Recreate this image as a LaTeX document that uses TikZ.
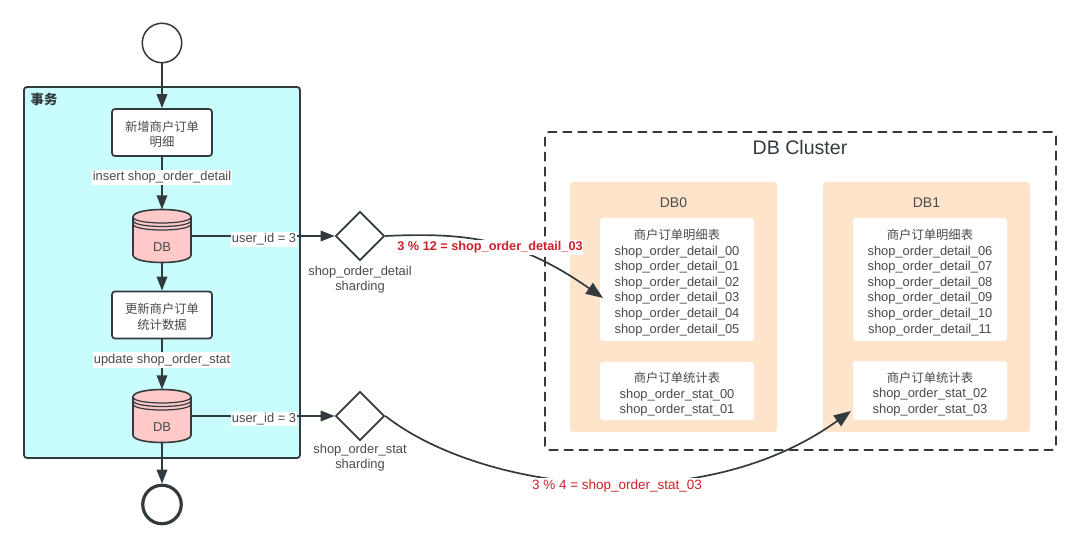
\documentclass[tikz,border=0pt]{standalone}
\usepackage{fontspec}
\setmainfont{Liberation Sans}
\newfontfamily\cjk[Scale=0.955]{Noto Sans CJK SC}
\usetikzlibrary{arrows.meta,shapes.geometric,positioning}
\definecolor{ink}{HTML}{333A3D}
\definecolor{txt}{HTML}{4A4A4A}
\definecolor{lane}{HTML}{C8FCFD}
\definecolor{dbfill}{HTML}{FFC9C9}
\definecolor{shard}{HTML}{FFE4CC}
\definecolor{redtxt}{HTML}{D0202A}
\tikzset{
  x=1pt, y=-1pt,
  base/.style={font=\fontsize{12.9}{15.6}\selectfont, text=txt, align=center, inner sep=0pt},
  flow/.style={draw=ink, line width=1.9pt, -{Triangle[length=14pt,width=10.5pt]}},
  bend line/.style={draw=ink, line width=1.7pt, -{Triangle[length=17pt,width=13pt]}},
  lane box/.style={draw=ink, line width=1.8pt, fill=lane, rounded corners=3pt, minimum width=276pt, minimum height=371pt, inner sep=0pt},
  task/.style={draw=ink, line width=1.7pt, fill=white, rounded corners=3pt, minimum width=100pt, minimum height=47pt, inner sep=0pt},
  gate/.style={draw=ink, line width=1.7pt, fill=white, diamond, aspect=1, minimum width=49pt, minimum height=49pt, inner sep=0pt},
  edge text/.style={base, fill=white, inner xsep=0.5pt, inner ysep=1.5pt},
  shard box/.style={fill=shard, rounded corners=3pt, minimum width=207pt, minimum height=250pt, inner sep=0pt},
  table box/.style={fill=white, rounded corners=3pt, minimum width=154pt, inner sep=0pt},
  red text/.style={font=\fontsize{13.5}{15}\selectfont, text=redtxt, inner xsep=0.5pt, inner ysep=1.5pt, fill=white},
}
% Database drum: body, stacked rims and a named frame for connectors
\newcommand{\drum}[3]{%
  \draw[ink, line width=1.6pt, fill=dbfill]
    (#2-29,#3-19) .. controls (#2-29,#3-29) and (#2+29,#3-29) .. (#2+29,#3-19)
    -- (#2+29,#3+19) .. controls (#2+29,#3+29) and (#2-29,#3+29) .. (#2-29,#3+19) -- cycle;
  \draw[ink, line width=1.2pt]
    (#2-29,#3-19) .. controls (#2-29,#3-11) and (#2+29,#3-11) .. (#2+29,#3-19)
    (#2-29,#3-15.5) .. controls (#2-29,#3-7.5) and (#2+29,#3-7.5) .. (#2+29,#3-15.5)
    (#2-29,#3-12) .. controls (#2-29,#3-4) and (#2+29,#3-4) .. (#2+29,#3-12);
  \node[inner sep=0pt, minimum width=58pt, minimum height=53pt] (#1) at (#2,#3) {};
  \node[base] (#1label) at (#2,#3+11) {DB};
}
\begin{document}
\begin{tikzpicture}
\useasboundingbox (0,0) rectangle (1080,548);

% cluster frame and shards
\node[draw=ink, dashed, dash pattern=on 9.5pt off 5.5pt, line width=1.8pt, rounded corners=4pt, minimum width=511pt, minimum height=318pt, inner sep=0pt] (cluster) at (800.5,291) {};
\node[font=\fontsize{19.6}{22}\selectfont, text=ink, inner sep=0pt] (clustertitle) at (800,147) {DB Cluster};

\node[shard box] (db0) at (673.5,307) {};
\node[shard box] (dbone) at (926.5,307) {};
\node[base, font=\fontsize{14}{16}\selectfont] (db0title) at (673.5,203) {DB0};
\node[base, font=\fontsize{14}{16}\selectfont] (dbonetitle) at (926.5,203) {DB1};

\node[table box, minimum height=123pt] (detail0) at (677,279.5) {};
\node[table box, minimum height=123pt] (detail1) at (930,279.5) {};
\node[table box, minimum height=58pt] (stat0) at (677,391) {};
\node[table box, minimum height=59pt] (stat1) at (930,390.5) {};
\node[base] (detail0text) at (677,282.5) {{\cjk 商户订单明细表}\\shop\_order\_detail\_00\\shop\_order\_detail\_01\\shop\_order\_detail\_02\\shop\_order\_detail\_03\\shop\_order\_detail\_04\\shop\_order\_detail\_05};
\node[base] (detail1text) at (930,282.5) {{\cjk 商户订单明细表}\\shop\_order\_detail\_06\\shop\_order\_detail\_07\\shop\_order\_detail\_08\\shop\_order\_detail\_09\\shop\_order\_detail\_10\\shop\_order\_detail\_11};
\node[base] (stat0text) at (677,394.5) {{\cjk 商户订单统计表}\\shop\_order\_stat\_00\\shop\_order\_stat\_01};
\node[base] (stat1text) at (930,394) {{\cjk 商户订单统计表}\\shop\_order\_stat\_02\\shop\_order\_stat\_03};

% transaction lane
\node[lane box] (lane) at (162,272.5) {};
\node[font=\fontsize{14}{16}\selectfont\bfseries, text=ink, inner sep=0pt] (lanetitle) at (44,99.5) {\cjk 事务};

% flow nodes
\node[draw=ink, line width=1.5pt, circle, fill=white, minimum size=39.5pt, inner sep=0pt] (start) at (162,43) {};
\node[task] (t1) at (162,132.5) {};
\node[base] (t1text) at (162,134.5) {{\cjk 新增商户订单}\\{\cjk 明细}};
\drum{dba}{162}{236}
\node[task] (t2) at (162,315) {};
\node[base] (t2text) at (162,317) {{\cjk 更新商户订单}\\{\cjk 统计数据}};
\drum{dbb}{162}{416}
\node[draw=ink, line width=3.2pt, circle, fill=white, minimum size=38.5pt, inner sep=0pt] (finish) at (162,504.5) {};
\node[gate] (g1) at (360,236) {};
\node[gate] (g2) at (360,416) {};
\node[base] (g1text) at (360,279.5) {shop\_order\_detail\\sharding};
\node[base] (g2text) at (360,457.5) {shop\_order\_stat\\sharding};

% free ends of the two routed connectors
\coordinate (hit1) at (603,298);
\coordinate (hit2) at (851,411);

% connectors
\draw[flow] (start) -- (t1);
\draw[flow] (t1) -- (dba);
\draw[flow] (dba) -- (t2);
\draw[flow] (t2) -- (dbb);
\draw[flow] (dbb) -- (finish);
\draw[flow] (dba.east) -- (g1.west);
\draw[flow] (dbb.east) -- (g2.west);
\draw[bend line] (g1.east) .. controls (470,232) and (520,240) .. (hit1);
\draw[bend line] (g2.east) .. controls (480,490) and (700,520) .. (hit2);

% connector labels
\node[edge text] (l1) at (162,177.5) {insert shop\_order\_detail};
\node[edge text] (l2) at (162,360) {update shop\_order\_stat};
\node[edge text] (l3) at (264,239.5) {user\_id = 3};
\node[edge text] (l4) at (264,419) {user\_id = 3};
\node[red text, font=\fontsize{12.7}{15}\selectfont\bfseries] (r1) at (490,247.5) {3 \% 12 = shop\_order\_detail\_03};
\node[red text] (r2) at (617,486) {3 \% 4 = shop\_order\_stat\_03};
\end{tikzpicture}
\end{document}
